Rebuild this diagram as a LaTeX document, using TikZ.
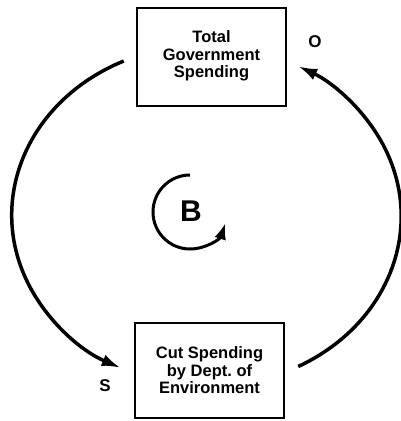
\documentclass[tikz,border=0pt]{standalone}
\usepackage{fontspec}
\setmainfont{Liberation Sans}
\usetikzlibrary{arrows.meta}
\begin{document}
\begin{tikzpicture}[x=1pt,y=-1pt,
  box/.style={draw,line width=2.5pt,minimum width=149pt,inner sep=0pt,align=center,
    font=\fontsize{16.5}{17.5}\selectfont\bfseries},
  link/.style={line width=3.5pt,-{Latex[length=19pt,width=12pt]}},
  lbl/.style={font=\fontsize{17}{18}\selectfont\bfseries}]
\useasboundingbox (0,0) rectangle (400,421);
\node[box,minimum height=98pt,text depth=5pt] (tg) at (211.5,57) {Total\\Government\\Spending};
\node[box,minimum height=95pt] (cs) at (209.5,370.5) {Cut Spending\\by Dept.\ of\\Environment};
\node[lbl] (o) at (315,42) {O};
\node[lbl] (s) at (105,386) {S};
\node[font=\fontsize{30}{32}\selectfont\bfseries] (b) at (191,211) {B};
% left link: tg -> cs
\draw[link] (tg.west) ++(-12,4) arc[start angle=245,end angle=116,x radius=194,y radius=170];
% right link: cs -> tg
\draw[link] (cs.east) ++(13,-4) arc[start angle=62,end angle=-62,x radius=194,y radius=170];
% loop symbol
\draw[line width=3pt,-{Latex[length=16pt,width=12pt]}] (b.center) ++(-1,-36) arc[start angle=270,end angle=18,radius=37];
\end{tikzpicture}
\end{document}
